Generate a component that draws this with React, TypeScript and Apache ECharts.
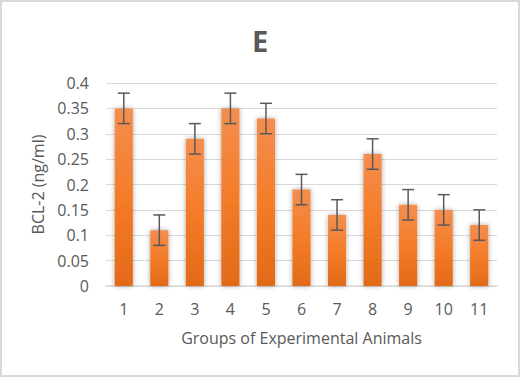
import React, { useEffect, useRef } from "react";
import * as echarts from "echarts";

const categories = ["1", "2", "3", "4", "5", "6", "7", "8", "9", "10", "11"];
const values = [0.35, 0.11, 0.29, 0.35, 0.33, 0.19, 0.14, 0.26, 0.16, 0.15, 0.12];
const errors = [0.03, 0.03, 0.03, 0.03, 0.03, 0.03, 0.03, 0.03, 0.03, 0.03, 0.03];
const titleText = "E";
const yAxisName = "BCL-2 (ng/ml)";
const xAxisName = "Groups of Experimental Animals";

const FONT = "'Open Sans', 'Liberation Sans', sans-serif";
const TEXT_COLOR = "#595959";

export default function App() {
  const ref = useRef<HTMLDivElement>(null);
  useEffect(() => {
    if (!ref.current) return;
    const chart = echarts.init(ref.current, undefined, { renderer: "svg" });
    const errData = values.map((v, i) => [i, v - errors[i], v + errors[i]]);
    chart.setOption({
      animation: false,
      backgroundColor: "#ffffff",
      title: {
        text: titleText,
        left: "center",
        top: 21,
        textStyle: { fontFamily: FONT, fontSize: 29, fontWeight: "bold", color: TEXT_COLOR },
      },
      grid: { left: 106, right: 23, top: 83, bottom: 91 },
      xAxis: {
        type: "category",
        data: categories,
        axisLine: { lineStyle: { color: "#D9D9D9", width: 1.5 } },
        axisTick: { show: false },
        axisLabel: { fontFamily: FONT, fontSize: 16, color: TEXT_COLOR, margin: 15 },
        name: xAxisName,
        nameLocation: "middle",
        nameGap: 44,
        nameTextStyle: { fontFamily: FONT, fontSize: 16, color: TEXT_COLOR },
      },
      yAxis: {
        type: "value",
        min: 0,
        max: 0.4,
        interval: 0.05,
        axisLine: { show: false },
        axisTick: { show: false },
        splitLine: { lineStyle: { color: "#D9D9D9", width: 1 } },
        axisLabel: { fontFamily: FONT, fontSize: 16, color: TEXT_COLOR, margin: 17 },
        name: yAxisName,
        nameLocation: "middle",
        nameGap: 58,
        nameRotate: 90,
        nameTextStyle: { fontFamily: FONT, fontSize: 16, color: TEXT_COLOR },
      },
      series: [
        {
          type: "bar",
          data: values,
          barWidth: "51%",
          itemStyle: {
            color: new echarts.graphic.LinearGradient(0, 0, 0, 1, [
              { offset: 0, color: "#F48E4F" },
              { offset: 0.5, color: "#F47C29" },
              { offset: 1, color: "#E26A18" },
            ]),
            shadowBlur: 5,
            shadowColor: "rgba(0,0,0,0.35)",
          },
        },
        {
          type: "custom",
          data: errData,
          z: 10,
          renderItem: (params: any, api: any) => {
            const x = api.value(0);
            const lo = api.coord([x, api.value(1)]);
            const hi = api.coord([x, api.value(2)]);
            const hw = 6;
            const style = { stroke: "#595959", lineWidth: 1.5 };
            return {
              type: "group",
              children: [
                { type: "line", shape: { x1: lo[0], y1: lo[1], x2: hi[0], y2: hi[1] }, style },
                { type: "line", shape: { x1: hi[0] - hw, y1: hi[1], x2: hi[0] + hw, y2: hi[1] }, style },
                { type: "line", shape: { x1: lo[0] - hw, y1: lo[1], x2: lo[0] + hw, y2: lo[1] }, style },
              ],
            };
          },
        },
      ],
    });
    return () => chart.dispose();
  }, []);
  return (
    <div
      style={{
        position: "fixed",
        left: 0,
        top: 0,
        width: 520,
        height: 377,
        background: "#fff",
      }}
    >
      <div ref={ref} style={{ position: "absolute", left: 0, top: 0, width: 520, height: 377 }} />
      <div
        style={{
          position: "absolute",
          left: 0,
          top: 0,
          width: 520,
          height: 377,
          border: "2px solid #D9D9D9",
          boxSizing: "border-box",
          pointerEvents: "none",
        }}
      />
    </div>
  );
}
